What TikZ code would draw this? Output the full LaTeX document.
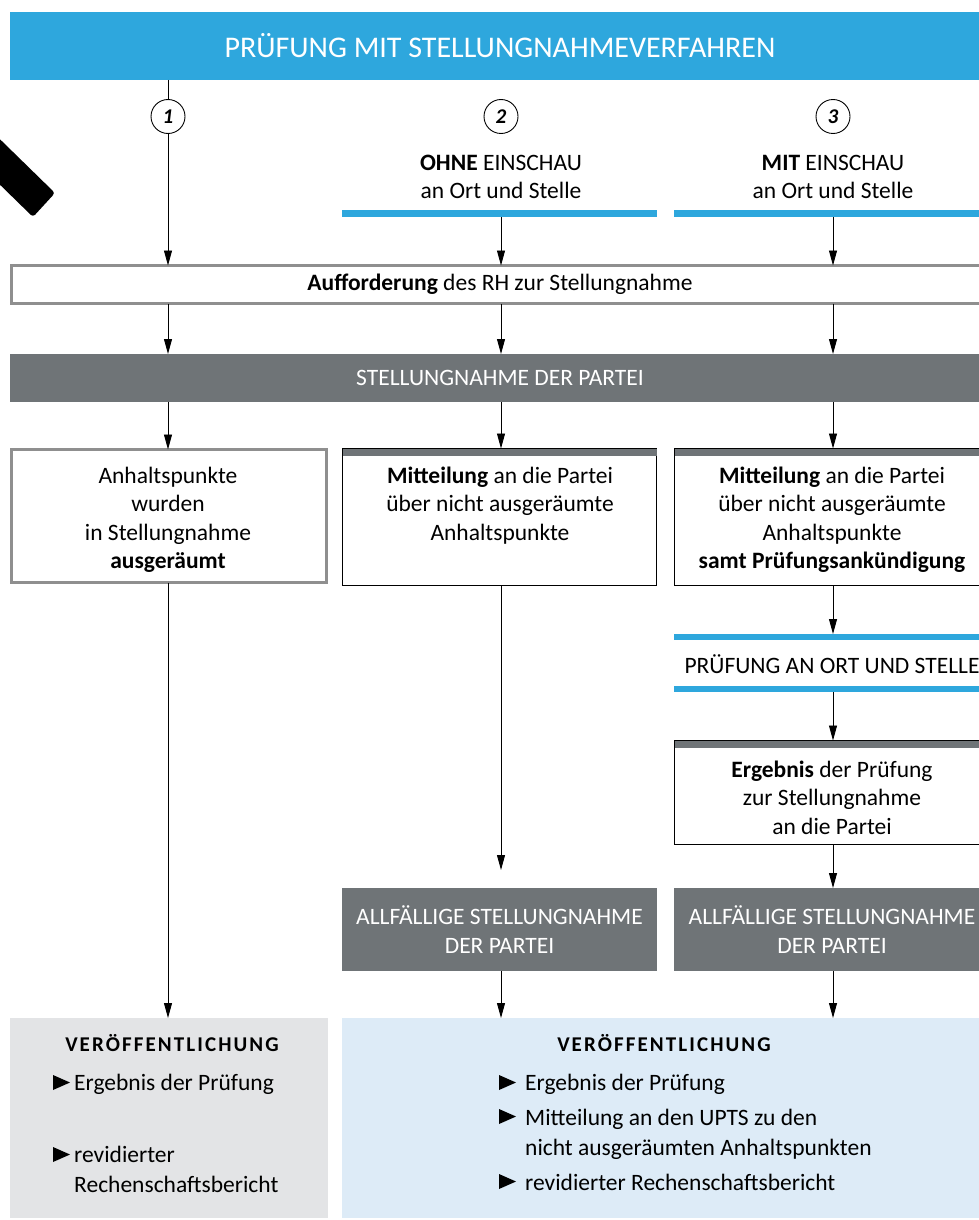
\documentclass[tikz,border=0pt]{standalone}
\usepackage{fontspec}
\setmainfont{Carlito}
\usetikzlibrary{arrows.meta,calc}
\definecolor{rhblue}{HTML}{2EA7DD}
\definecolor{rhdark}{HTML}{6F7477}
\definecolor{rhborder}{HTML}{8F8F8F}
\definecolor{rhlgray}{HTML}{E3E4E6}
\definecolor{rhlblue}{HTML}{DDEBF7}
\begin{document}
\begin{tikzpicture}[x=1pt,y=-1pt,
  font=\fontsize{23.5}{28.3}\selectfont,
  arr/.style={-{Triangle[length=15pt,width=8pt]}, line width=0.9pt},
  conn/.style={line width=0.9pt},
  bluebar/.style={fill=rhblue, inner sep=0pt, outer sep=0pt, minimum height=7pt},
  darkbar/.style={fill=rhdark, text=white, inner sep=0pt, outer sep=0pt, align=center},
  graybox/.style={draw=rhborder, line width=3pt, fill=white, inner sep=0pt, outer sep=0pt},
  thinbox/.style={draw=black, line width=0.9pt, fill=white, inner sep=0pt, outer sep=0pt},
  numc/.style={circle, draw, line width=0.9pt, fill=white, minimum size=34pt, inner sep=0pt, font=\fontsize{21}{24}\selectfont\bfseries\itshape},
  boxtext/.style={align=center, anchor=north, inner sep=0pt},
  pubbox/.style={inner sep=0pt, outer sep=0pt},
  pubtitle/.style={anchor=base, inner sep=0pt, font=\fontsize{21}{24}\selectfont\bfseries\addfontfeatures{LetterSpace=10}},
  pubitem/.style={anchor=base west, inner sep=0pt},
  bullet/.style={fill=black}
]
\useasboundingbox (0,0) rectangle (979,1220);

% decoration at left
\fill[rounded corners=3pt] (-30,110) -- (55,193) -- (33,217) -- (-52,134) -- cycle;

\coordinate (c1) at (168,0);
\coordinate (c2) at (501,0);
\coordinate (c3) at (833,0);

% title
\node[fill=rhblue, text=white, minimum width=980pt, minimum height=68pt, inner sep=0pt, outer sep=0pt,
  font=\fontsize{30}{34}\selectfont] (title) at (500,46) {PRÜFUNG MIT STELLUNGNAHMEVERFAHREN};

% numbers
\node[numc] (n1) at (168,116.5) {1};
\node[numc] (n2) at (501,116.5) {2};
\node[numc] (n3) at (833,116.5) {3};

\node[align=center, inner sep=0pt] (ohne) at (501,177) {\textbf{OHNE} EINSCHAU\\an Ort und Stelle};
\node[align=center, inner sep=0pt] (mit) at (833,177) {\textbf{MIT} EINSCHAU\\an Ort und Stelle};

\node[bluebar, minimum width=315pt] (bar2) at (499.5,213.5) {};
\node[bluebar, minimum width=316pt] (bar3) at (832,213.5) {};

% Aufforderung
\node[graybox, minimum width=977pt, minimum height=38pt] (auff) at (500,284.5) {\textbf{Aufforderung} des RH zur Stellungnahme};

% Stellungnahme der Partei
\node[darkbar, minimum width=980pt, minimum height=48pt] (stel) at (500,378) {STELLUNGNAHME DER PARTEI};

% row of three boxes
\node[graybox, minimum width=315pt, minimum height=133pt] (box1) at (169,516) {};
\node[boxtext] (t1) at (168,467) {Anhaltspunkte\\wurden\\in Stellungnahme\\\textbf{ausgeräumt}};

\node[thinbox, minimum width=314pt, minimum height=137pt] (box2) at (499.5,517) {};
\fill[rhdark] (box2.north west) rectangle ($(box2.north east)+(0,7)$);
\node[boxtext] (t2) at (500,467) {\textbf{Mitteilung} an die Partei\\über nicht ausgeräumte\\Anhaltspunkte};

\node[thinbox, minimum width=314pt, minimum height=137pt] (box3) at (831.5,517) {};
\fill[rhdark] (box3.north west) rectangle ($(box3.north east)+(0,7)$);
\node[boxtext] (t3) at (832,467) {\textbf{Mitteilung} an die Partei\\über nicht ausgeräumte\\Anhaltspunkte\\\textbf{samt Prüfungsankündigung}};

% Prüfung an Ort und Stelle
\node[bluebar, minimum width=316pt, minimum height=6pt] (pb1) at (832,637) {};
\node[bluebar, minimum width=316pt, minimum height=6pt] (pb2) at (832,689) {};
\node[inner sep=0pt] (port) at (832,664) {PRÜFUNG AN ORT UND STELLE};

% Ergebnis
\node[thinbox, minimum width=314pt, minimum height=104pt] (erg) at (831.5,792.5) {};
\fill[rhdark] (erg.north west) rectangle ($(erg.north east)+(0,7)$);
\node[boxtext] (te) at (832,761) {\textbf{Ergebnis} der Prüfung\\zur Stellungnahme\\an die Partei};

% Allfällige Stellungnahme
\node[darkbar, minimum width=315pt, minimum height=83pt] (allf2) at (499.5,929.5) {ALLFÄLLIGE STELLUNGNAHME\\DER PARTEI};
\node[darkbar, minimum width=316pt, minimum height=83pt] (allf3) at (832,929.5) {ALLFÄLLIGE STELLUNGNAHME\\DER PARTEI};

% Veröffentlichung
\node[pubbox, fill=rhlgray, minimum width=318pt, minimum height=200pt] (pub1) at (169,1118) {};
\node[pubbox, fill=rhlblue, minimum width=648pt, minimum height=200pt] (pub2) at (666,1118) {};

\node[pubtitle] (p1t) at (172,1051) {VERÖFFENTLICHUNG};
\fill[bullet] (53,1075) -- (70,1082.5) -- (53,1090) -- cycle;
\node[pubitem] (p1a) at (74,1090) {Ergebnis der Prüfung};
\fill[bullet] (53,1147) -- (70,1154.5) -- (53,1162) -- cycle;
\node[pubitem] (p1b) at (74,1162) {revidierter};
\node[pubitem] (p1c) at (74,1192) {Rechenschaftsbericht};

\node[pubtitle] (p2t) at (664,1051) {VERÖFFENTLICHUNG};
\fill[bullet] (499,1075) -- (516,1082.5) -- (499,1090) -- cycle;
\node[pubitem] (p2a) at (525,1090) {Ergebnis der Prüfung};
\fill[bullet] (499,1109) -- (516,1116.5) -- (499,1124) -- cycle;
\node[pubitem] (p2b) at (525,1125) {Mitteilung an den UPTS zu den};
\node[pubitem] (p2c) at (525,1155) {nicht ausgeräumten Anhaltspunkten};
\fill[bullet] (499,1174) -- (516,1181.5) -- (499,1189) -- cycle;
\node[pubitem] (p2d) at (525,1190) {revidierter Rechenschaftsbericht};

% connectors column 1
\draw[conn] (title.south -| n1) -- (n1);
\draw[arr] (n1) -- (auff.north -| c1);
\draw[arr] (auff.south -| c1) -- (stel.north -| c1);
\draw[arr] (stel.south -| c1) -- (box1.north -| c1);
\draw[arr] (box1.south -| c1) -- (pub1.north -| c1);

% column 2
\coordinate (e2) at (501,870);
\draw[arr] (bar2.south -| c2) -- (auff.north -| c2);
\draw[arr] (auff.south -| c2) -- (stel.north -| c2);
\draw[arr] (stel.south -| c2) -- (box2.north -| c2);
\draw[arr] (box2.south -| c2) -- (e2);
\draw[arr] (allf2.south -| c2) -- (pub2.north -| c2);

% column 3
\draw[arr] (bar3.south -| c3) -- (auff.north -| c3);
\draw[arr] (auff.south -| c3) -- (stel.north -| c3);
\draw[arr] (stel.south -| c3) -- (box3.north -| c3);
\draw[arr] (box3.south -| c3) -- (pb1.north -| c3);
\draw[arr] (pb2.south -| c3) -- (erg.north -| c3);
\draw[arr] (erg.south -| c3) -- (allf3.north -| c3);
\draw[arr] (allf3.south -| c3) -- (pub2.north -| c3);
\end{tikzpicture}
\end{document}
